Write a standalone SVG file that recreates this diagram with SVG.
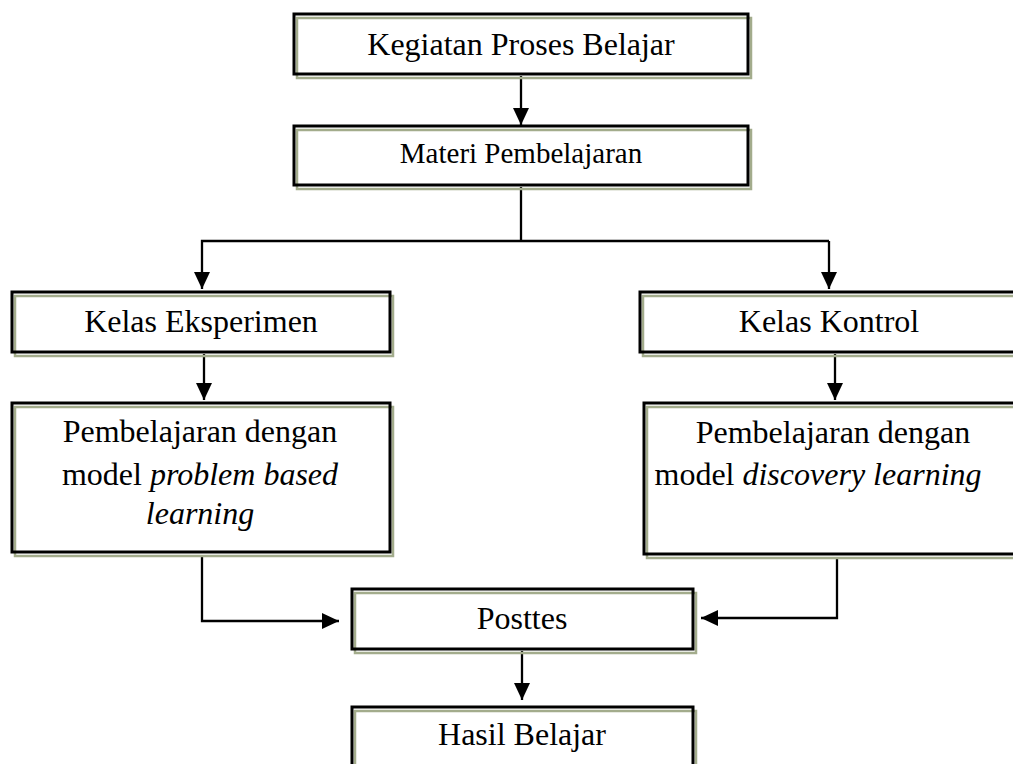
<svg xmlns="http://www.w3.org/2000/svg" width="1013" height="764" viewBox="0 0 1013 764">
<style>
.sh{fill:none;stroke:#a3ac8c;stroke-width:2.5}
.bx{fill:none;stroke:#000;stroke-width:3}
.t{font-family:"Liberation Serif","Times New Roman",serif;font-size:32px;fill:#000;text-anchor:middle}
.c{fill:none;stroke:#000;stroke-width:2.3}
</style>
<defs>
<marker id="ah" markerUnits="userSpaceOnUse" markerWidth="17" markerHeight="16" refX="17" refY="8" orient="auto">
<path d="M0,0 L17,8 L0,16 z" fill="#000"/>
</marker>
</defs>
<rect width="1013" height="764" fill="#fff"/>
<g id="connectors">
<line class="c" x1="521" y1="76" x2="521" y2="125" marker-end="url(#ah)"/>
<polyline class="c" points="521,187 521,241"/>
<polyline class="c" points="829,241 202,241 202,289" marker-end="url(#ah)"/>
<polyline class="c" points="829,241 829,289" marker-end="url(#ah)"/>
<line class="c" x1="204" y1="354" x2="204" y2="400" marker-end="url(#ah)"/>
<line class="c" x1="835" y1="354" x2="835" y2="400" marker-end="url(#ah)"/>
<polyline class="c" points="202,555 202,621 339,621" marker-end="url(#ah)"/>
<polyline class="c" points="837,557 837,618 701,618" marker-end="url(#ah)"/>
<line class="c" x1="522" y1="651" x2="522" y2="700" marker-end="url(#ah)"/>
</g>
<g id="n1">
<rect class="sh" x="297" y="18" width="454" height="60"/>
<rect class="bx" x="294" y="14" width="454" height="60"/>
<text class="t" x="521" y="55">Kegiatan Proses Belajar</text>
</g>
<g id="n2">
<rect class="sh" x="297" y="130" width="454" height="59"/>
<rect class="bx" x="294" y="126" width="454" height="59"/>
<text class="t" x="521" y="163" style="font-size:29px">Materi Pembelajaran</text>
</g>
<g id="n3">
<rect class="sh" x="15" y="296" width="378" height="60"/>
<rect class="bx" x="12" y="292" width="378" height="60"/>
<text class="t" x="201" y="332">Kelas Eksperimen</text>
</g>
<g id="n4">
<rect class="sh" x="643" y="296" width="400" height="60"/>
<rect class="bx" x="640" y="292" width="400" height="60"/>
<text class="t" x="829" y="332">Kelas Kontrol</text>
</g>
<g id="n5">
<rect class="sh" x="15" y="407" width="378" height="149"/>
<rect class="bx" x="12" y="403" width="378" height="149"/>
<text class="t" x="200" y="442">Pembelajaran dengan</text>
<text class="t" x="200" y="485">model <tspan font-style="italic">problem based</tspan></text>
<text class="t" x="200" y="524" font-style="italic">learning</text>
</g>
<g id="n6">
<rect class="sh" x="647" y="407" width="400" height="151"/>
<rect class="bx" x="644" y="403" width="400" height="151"/>
<text class="t" x="833" y="443">Pembelajaran dengan</text>
<text class="t" x="818" y="485">model <tspan font-style="italic">discovery learning</tspan></text>
</g>
<g id="n7">
<rect class="sh" x="355" y="593" width="341" height="60"/>
<rect class="bx" x="352" y="589" width="341" height="60"/>
<text class="t" x="522" y="629">Posttes</text>
</g>
<g id="n8">
<rect class="sh" x="355" y="711" width="341" height="70"/>
<rect class="bx" x="352" y="707" width="341" height="70"/>
<text class="t" x="522" y="745">Hasil Belajar</text>
</g>
</svg>
